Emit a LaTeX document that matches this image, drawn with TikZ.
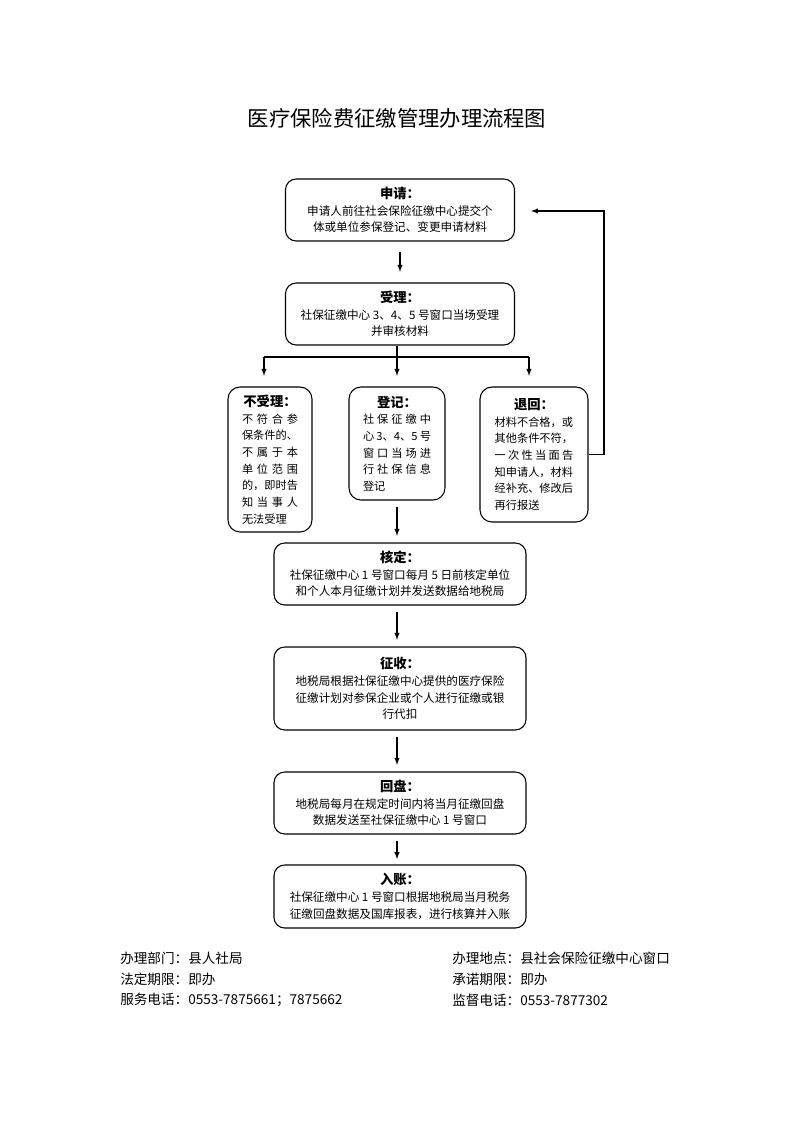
\documentclass[tikz,border=0pt]{standalone}
\usepackage{fontspec}
\setmainfont{Noto Sans CJK SC}
\tikzset{>=latex}
\tikzset{
    flowbox/.style={draw, rounded corners=8pt, line width=0.8pt, align=center, inner sep=2pt, font=\fontsize{8.7}{12.5}\selectfont},
    sidebox/.style={flowbox, rounded corners=9pt, font=\fontsize{8.4}{12.5}\selectfont},
    flowline/.style={line width=0.8pt},
    flowarrow/.style={->, line width=0.8pt, shorten <=5pt, shorten >=5pt},
    infotext/.style={anchor=west, inner sep=0pt, font=\fontsize{10.2}{12}\selectfont}
}
\newcommand{\boxtitle}[1]{{\bfseries\fontsize{10}{12.5}\selectfont #1}}
\newcommand{\spreadline}[2]{\makebox[#1][s]{#2}}
\newcommand{\plainline}[2]{\makebox[#1][l]{#2}}

\begin{document}
\begin{tikzpicture}[x=0.75pt, y=-0.75pt]

    \useasboundingbox (0,0) rectangle (793,1122);

    \node (title) at (397,118) {\fontsize{16}{20}\selectfont 医疗保险费征缴管理办理流程图};

    % main column
    \node[flowbox, minimum width=171.75pt, minimum height=46.5pt] (apply) at (400,210)
        {\boxtitle{申请：}\\申请人前往社会保险征缴中心提交个\\体或单位参保登记、变更申请材料};
    \node[flowbox, minimum width=171.75pt, minimum height=46.5pt] (accept) at (400,314)
        {\boxtitle{受理：}\\社保征缴中心 3、4、5 号窗口当场受理\\并审核材料};

    % three outcomes
    \node[sidebox, minimum width=63pt, minimum height=108.75pt] (reject) at (270,459.5)
        {\boxtitle{不受理：}\\
         \spreadline{42pt}{不\hfill 符\hfill 合\hfill 参}\\
         \plainline{42pt}{保条件的、}\\
         \spreadline{42pt}{不\hfill 属\hfill 于\hfill 本}\\
         \spreadline{42pt}{单\hfill 位\hfill 范\hfill 围}\\
         \plainline{42pt}{的，即时告}\\
         \spreadline{42pt}{知\hfill 当\hfill 事\hfill 人}\\
         \plainline{42pt}{无法受理}};
    \node[sidebox, minimum width=72pt, minimum height=84.75pt] (register) at (397,443.5)
        {\boxtitle{登记：}\\
         \spreadline{51pt}{社\hfill 保\hfill 征\hfill 缴\hfill 中}\\
         \spreadline{51pt}{心\hfill 3、4、5\hfill 号}\\
         \spreadline{51pt}{窗\hfill 口\hfill 当\hfill 场\hfill 进}\\
         \spreadline{51pt}{行\hfill 社\hfill 保\hfill 信\hfill 息}\\
         \plainline{51pt}{登记}};
    \node[sidebox, minimum width=81pt, minimum height=101.25pt] (giveback) at (534,454.5)
        {\boxtitle{退回：}\\
         \plainline{59pt}{材料不合格，或}\\
         \plainline{59pt}{其他条件不符，}\\
         \spreadline{59pt}{一\hfill 次\hfill 性\hfill 当\hfill 面\hfill 告}\\
         \plainline{59pt}{知申请人，材料}\\
         \plainline{59pt}{经补充、修改后}\\
         \plainline{59pt}{再行报送}};

    \node[flowbox, minimum width=189pt, minimum height=46.5pt] (verify) at (400,574)
        {\boxtitle{核定：}\\社保征缴中心 1 号窗口每月 5 日前核定单位\\和个人本月征缴计划并发送数据给地税局};
    \node[flowbox, minimum width=189pt, minimum height=62.25pt] (collect) at (400,688.5)
        {\boxtitle{征收：}\\地税局根据社保征缴中心提供的医疗保险\\征缴计划对参保企业或个人进行征缴或银\\行代扣};
    \node[flowbox, minimum width=189pt, minimum height=46.5pt] (reconcile) at (400,803)
        {\boxtitle{回盘：}\\地税局每月在规定时间内将当月征缴回盘\\数据发送至社保征缴中心 1 号窗口};
    \node[flowbox, minimum width=189pt, minimum height=47.25pt] (account) at (400,896.5)
        {\boxtitle{入账：}\\社保征缴中心 1 号窗口根据地税局当月税务\\征缴回盘数据及国库报表，进行核算并入账};

    % connectors
    \coordinate (fork) at (397,357);
    \coordinate (forkL) at (264,357);
    \coordinate (forkR) at (529,357);
    \coordinate (loopcorner) at (604,211);

    \draw[flowarrow, shorten <=8pt, shorten >=8pt] (apply) -- (accept);
    \draw[flowline] (fork |- accept.south) -- (fork);
    \draw[flowline] (forkL) -- (forkR);
    \draw[flowarrow, shorten <=0pt, shorten >=8pt] (forkL) -- (forkL |- reject.north);
    \draw[flowarrow, shorten <=0pt, shorten >=8pt] (fork) -- (fork |- register.north);
    \draw[flowarrow, shorten <=0pt, shorten >=8pt] (forkR) -- (forkR |- giveback.north);
    \draw[flowarrow, shorten <=0pt, shorten >=12pt] (giveback.east) -| (loopcorner) -- (loopcorner -| apply.east);

    \draw[flowarrow] (register.south) -- (register.south |- verify.north);
    \draw[flowarrow] (register.south |- verify.south) -- (register.south |- collect.north);
    \draw[flowarrow] (register.south |- collect.south) -- (register.south |- reconcile.north);
    \draw[flowarrow, shorten >=4pt] (register.south |- reconcile.south) -- (register.south |- account.north);

    % footer
    \node[infotext] (dept) at (120,958) {办理部门：县人社局};
    \node[infotext] (limit) at (120,979) {法定期限：即办};
    \node[infotext] (phone) at (120,1000) {服务电话：0553-7875661；7875662};
    \node[infotext] (place) at (452,958) {办理地点：县社会保险征缴中心窗口};
    \node[infotext] (promise) at (452,979) {承诺期限：即办};
    \node[infotext] (supervise) at (452,1000) {监督电话：0553-7877302};

\end{tikzpicture}
\end{document}
